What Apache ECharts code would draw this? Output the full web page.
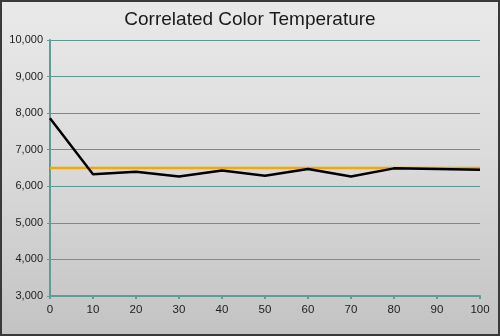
<!DOCTYPE html>
<html>
<head>
<meta charset="utf-8">
<script src="https://cdn.jsdelivr.net/npm/echarts@6/dist/echarts.min.js"></script>
<style>
  html, body { margin: 0; padding: 0; }
  #frame {
    width: 500px; height: 336px; box-sizing: border-box;
    border: 2px solid #3a3a3a;
    background: linear-gradient(to bottom, #e9e9e9 0%, #dcdcdc 45%, #c3c3c3 100%);
  }
  #chart { width: 496px; height: 332px; }
</style>
</head>
<body>
<div id="frame"><div id="chart"></div></div>
<script>
// Stimulus level (%) and measured correlated colour temperature (K)
const levels = [0, 10, 20, 30, 40, 50, 60, 70, 80, 90, 100];
const cctMeasured = [7860, 6330, 6400, 6270, 6430, 6290, 6470, 6265, 6490, 6470, 6450];
// D65 target
const cctTarget = 6500;
const yTicks = [3000, 4000, 5000, 6000, 7000, 8000, 9000, 10000];

const teal = '#5f9b97';
const font = 'Liberation Sans, Arial, sans-serif';
const chart = echarts.init(document.getElementById('chart'), null, { renderer: 'canvas' });

chart.setOption({
  backgroundColor: 'transparent',
  animation: false,
  title: {
    text: 'Correlated Color Temperature',
    left: 'center',
    top: 3,
    textStyle: { fontFamily: font, fontSize: 19, fontWeight: 'normal', color: '#1a1a1a' }
  },
  grid: { left: 48, right: 18, top: 38, bottom: 38 },
  xAxis: {
    type: 'value',
    min: levels[0],
    max: levels[levels.length - 1],
    interval: 10,
    axisLine: { lineStyle: { color: teal, width: 2 } },
    axisTick: { show: true, length: 3, lineStyle: { color: teal, width: 2 } },
    axisLabel: { color: '#222', fontSize: 11.5, margin: 8, fontFamily: font },
    splitLine: { show: false }
  },
  yAxis: {
    type: 'value',
    min: yTicks[0],
    max: yTicks[yTicks.length - 1],
    interval: 1000,
    axisLine: { show: true, lineStyle: { color: teal, width: 2 } },
    axisTick: { show: true, length: 3, lineStyle: { color: teal } },
    axisLabel: {
      color: '#222', fontSize: 11, margin: 7, fontFamily: font,
      formatter: v => v.toLocaleString('en-US')
    },
    splitLine: { show: true, lineStyle: { color: '#5e9893', width: 1 } }
  },
  series: [
    {
      name: 'Target',
      type: 'line',
      data: levels.map(l => [l, cctTarget]),
      symbol: 'none',
      lineStyle: { color: '#f5a800', width: 2.5 },
      z: 2
    },
    {
      name: 'Measured',
      type: 'line',
      data: levels.map((l, i) => [l, cctMeasured[i]]),
      symbol: 'none',
      lineStyle: { color: '#000', width: 2.5 },
      z: 3
    }
  ]
});
</script>
</body>
</html>
